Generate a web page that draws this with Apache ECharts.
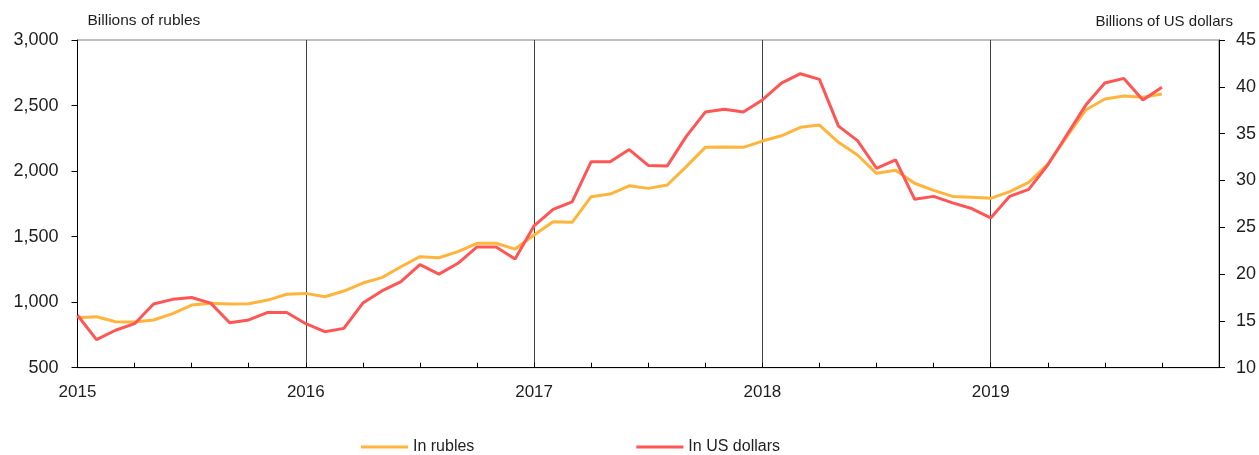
<!DOCTYPE html>
<html>
<head>
<meta charset="utf-8">
<script src="https://cdn.jsdelivr.net/npm/echarts@6/dist/echarts.min.js"></script>
<style>
  html, body { margin: 0; padding: 0; background: #fff; }
  #main { width: 1259px; height: 455px; }
</style>
</head>
<body>
<div id="main"></div>
<script>
// monthly data, Jan 2015 .. Oct 2019
var years = ['2015', '2016', '2017', '2018', '2019'];
var rubles = [
  881, 889, 851, 848, 864, 912, 978, 991, 986, 988, 1016, 1060,
  1067, 1041, 1085, 1146, 1187, 1270, 1347, 1339, 1385, 1449, 1449, 1405,
  1512, 1614, 1609, 1805, 1825, 1888, 1868, 1894, 2034, 2181, 2184, 2181,
  2229, 2269, 2334, 2351, 2219, 2123, 1983, 2006, 1907, 1853, 1807, 1800,
  1792, 1843, 1914, 2051, 2262, 2466, 2550, 2573, 2563, 2588
];
var dollars = [
  15.6, 13.0, 14.0, 14.7, 16.8, 17.3, 17.5, 16.9, 14.8, 15.1, 15.9, 15.9,
  14.7, 13.85, 14.2, 16.9, 18.2, 19.2, 21.0, 20.0, 21.15, 22.9, 22.9, 21.6,
  25.15, 26.9, 27.7, 32.0, 32.0, 33.3, 31.6, 31.55, 34.7, 37.3, 37.6, 37.3,
  38.6, 40.4, 41.4, 40.8, 35.8, 34.25, 31.3, 32.2, 28.0, 28.3, 27.6, 27.0,
  26.0, 28.3, 29.05, 31.65, 34.85, 38.05, 40.4, 40.9, 38.6, 39.95
];
var seriesNames = ['In rubles', 'In US dollars'];
var leftName = 'Billions of rubles';
var rightName = 'Billions of US dollars';

var months = [];
for (var y = 0; y < years.length; y++) {
    for (var m = 1; m <= 12; m++) {
        months.push(years[y] + '-' + (m < 10 ? '0' + m : m));
    }
}
months.push('2020-01');

var FONT = '"Liberation Sans", Arial, sans-serif';
var TXT = '#1e1e1e';

var myChart = echarts.init(document.getElementById('main'));
var option = {
    animation: false,
    textStyle: { fontFamily: FONT },
    grid: {
        left: 77.5,
        right: 40,
        top: 40,
        bottom: 87.3,
        show: true,
        borderColor: '#808080',
        borderWidth: 1
    },
    legend: {
        data: seriesNames,
        left: 356,
        top: 434,
        icon: 'rect',
        itemWidth: 47,
        itemHeight: 3,
        itemGap: 162,
        textStyle: { fontSize: 16, color: TXT, fontFamily: FONT }
    },
    xAxis: {
        type: 'category',
        data: months,
        boundaryGap: false,
        axisLine: { lineStyle: { color: '#000', width: 1 } },
        axisTick: {
            inside: true,
            length: 5,
            interval: function (i) { return i % 3 === 0; },
            lineStyle: { color: '#000' }
        },
        axisLabel: {
            interval: function (i) { return i % 12 === 0 && i < 60; },
            formatter: function (v) { return v.slice(0, 4); },
            fontSize: 17,
            color: TXT,
            margin: 16
        },
        splitLine: {
            show: true,
            interval: function (i) { return i % 12 === 0 && i > 0 && i < 60; },
            lineStyle: { color: '#404040', width: 1 }
        }
    },
    yAxis: [
        {
            type: 'value',
            min: 500,
            max: 3000,
            interval: 500,
            name: leftName,
            nameLocation: 'end',
            nameGap: 11,
            nameTextStyle: { align: 'left', padding: [0, 0, 0, 10], fontSize: 15.5, color: TXT },
            axisLine: { show: true, lineStyle: { color: '#000' } },
            axisTick: { show: true, length: 6, lineStyle: { color: '#000' } },
            axisLabel: {
                fontSize: 18,
                color: TXT,
                margin: 19,
                formatter: function (v) { return v.toLocaleString('en-US'); }
            },
            splitLine: { show: false }
        },
        {
            type: 'value',
            min: 10,
            max: 45,
            interval: 5,
            name: rightName,
            nameLocation: 'end',
            nameGap: 11,
            nameTextStyle: { align: 'right', padding: [0, -14, 0, 0], fontSize: 15, color: TXT },
            axisLine: { show: true, lineStyle: { color: '#000' } },
            axisTick: { show: true, length: 6, lineStyle: { color: '#000' } },
            axisLabel: { fontSize: 18, color: TXT, margin: 17 },
            splitLine: { show: false }
        }
    ],
    series: [
        {
            name: seriesNames[0],
            type: 'line',
            yAxisIndex: 0,
            data: rubles,
            symbol: 'none',
            lineStyle: { color: '#FFB43C', width: 3 },
            itemStyle: { color: '#FFB43C' }
        },
        {
            name: seriesNames[1],
            type: 'line',
            yAxisIndex: 1,
            data: dollars,
            symbol: 'none',
            lineStyle: { color: '#FF5555', width: 3 },
            itemStyle: { color: '#FF5555' }
        }
    ]
};
myChart.setOption(option);
</script>
</body>
</html>
